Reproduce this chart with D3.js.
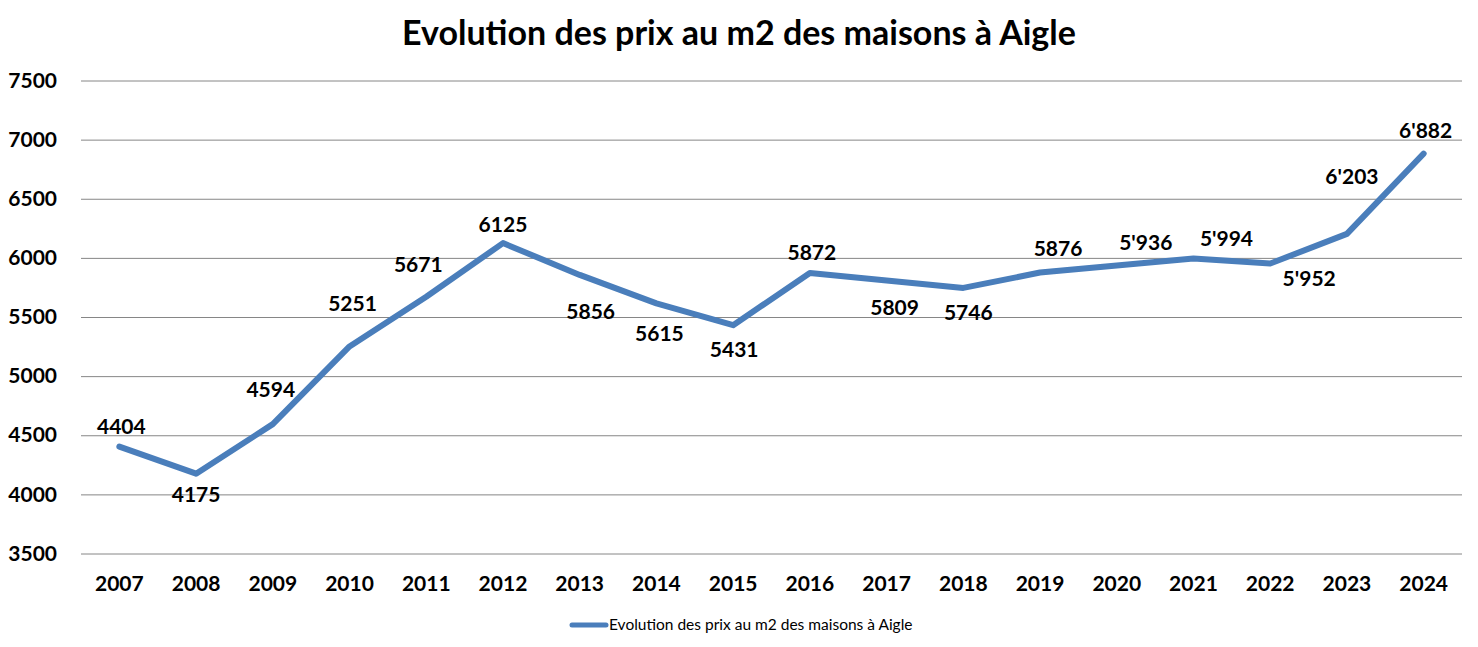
<!DOCTYPE html>
<html><head><meta charset="utf-8">
<script src="https://cdn.jsdelivr.net/npm/d3@7"></script>
<style>body{margin:0;background:#fff}svg{display:block}text{font-family:Lato,"Open Sans",sans-serif}</style>
</head><body><svg id="c" width="1478" height="647"></svg>
<script>
const years = ["2007","2008","2009","2010","2011","2012","2013","2014","2015","2016","2017","2018","2019","2020","2021","2022","2023","2024"];
const prices = [4404,4175,4594,5251,5671,6125,5856,5615,5431,5872,5809,5746,5876,5936,5994,5952,6203,6882];
const labels = ["4404","4175","4594","5251","5671","6125","5856","5615","5431","5872","5809","5746","5876","5'936","5'994","5'952","6'203","6'882"];
const yTicks = [3500,4000,4500,5000,5500,6000,6500,7000,7500];
// label offsets (dx, dy of text center relative to point)
const labelDx = [2,0,-2,3,-8,0,11,3,1,2,8,5,18,29,33,39,5,2];
const labelDy = [-20,21,-34,-43,-32,-18,37,30,24,-20,27,25,-24,-23,-20,15,-57,-23];
const title = "Evolution des prix au m2 des maisons à Aigle";

const svg = d3.select("#c");
const L=81,R=1462,T=80.5,B=553.5;
const x = d3.scaleBand().domain(years).range([L,R]);
const y = d3.scaleLinear().domain([3500,7500]).range([B,T]);
const cx = d=>x(d)+x.bandwidth()/2;

svg.append("text").attr("x",739).attr("y",45).attr("text-anchor","middle")
  .attr("font-size",34).attr("font-weight","bold").attr("fill","#000").text(title);

const yAxis = svg.append("g").attr("transform",`translate(${L},0)`)
  .call(d3.axisLeft(y).tickValues(yTicks).tickSize(-(R-L)).tickFormat(d3.format("d")));
yAxis.select(".domain").remove();
yAxis.selectAll("line").attr("stroke","#868686").attr("stroke-width",1);
yAxis.selectAll("text").attr("x",-24).attr("font-size",21).attr("font-weight","bold").attr("fill","#000");

const xAxis = svg.append("g").attr("transform",`translate(0,${B})`)
  .call(d3.axisBottom(x).tickSize(0));
xAxis.select(".domain").remove();
xAxis.selectAll("text").attr("y",0).attr("dy","1.8em").attr("font-size",21).attr("font-weight","bold").attr("fill","#000");

const line = d3.line().x((d,i)=>cx(years[i])).y(d=>y(d));
svg.append("path").datum(prices).attr("d",line).attr("fill","none")
  .attr("stroke","#4a7ebb").attr("stroke-width",6).attr("stroke-linejoin","round").attr("stroke-linecap","round");

svg.append("g").selectAll("text").data(prices).join("text")
  .attr("x",(d,i)=>cx(years[i])+labelDx[i]).attr("y",(d,i)=>y(d)+labelDy[i])
  .attr("dy","0.35em").attr("text-anchor","middle").attr("font-size",21).attr("font-weight","bold").attr("fill","#000")
  .text((d,i)=>labels[i]);

const lg = svg.append("g");
lg.append("line").attr("x1",572).attr("x2",606).attr("y1",625).attr("y2",625)
  .attr("stroke","#4a7ebb").attr("stroke-width",5).attr("stroke-linecap","round");
lg.append("text").attr("x",609).attr("y",625).attr("dy","0.35em").attr("font-size",15.5).attr("fill","#000").text(title);
</script></body></html>
